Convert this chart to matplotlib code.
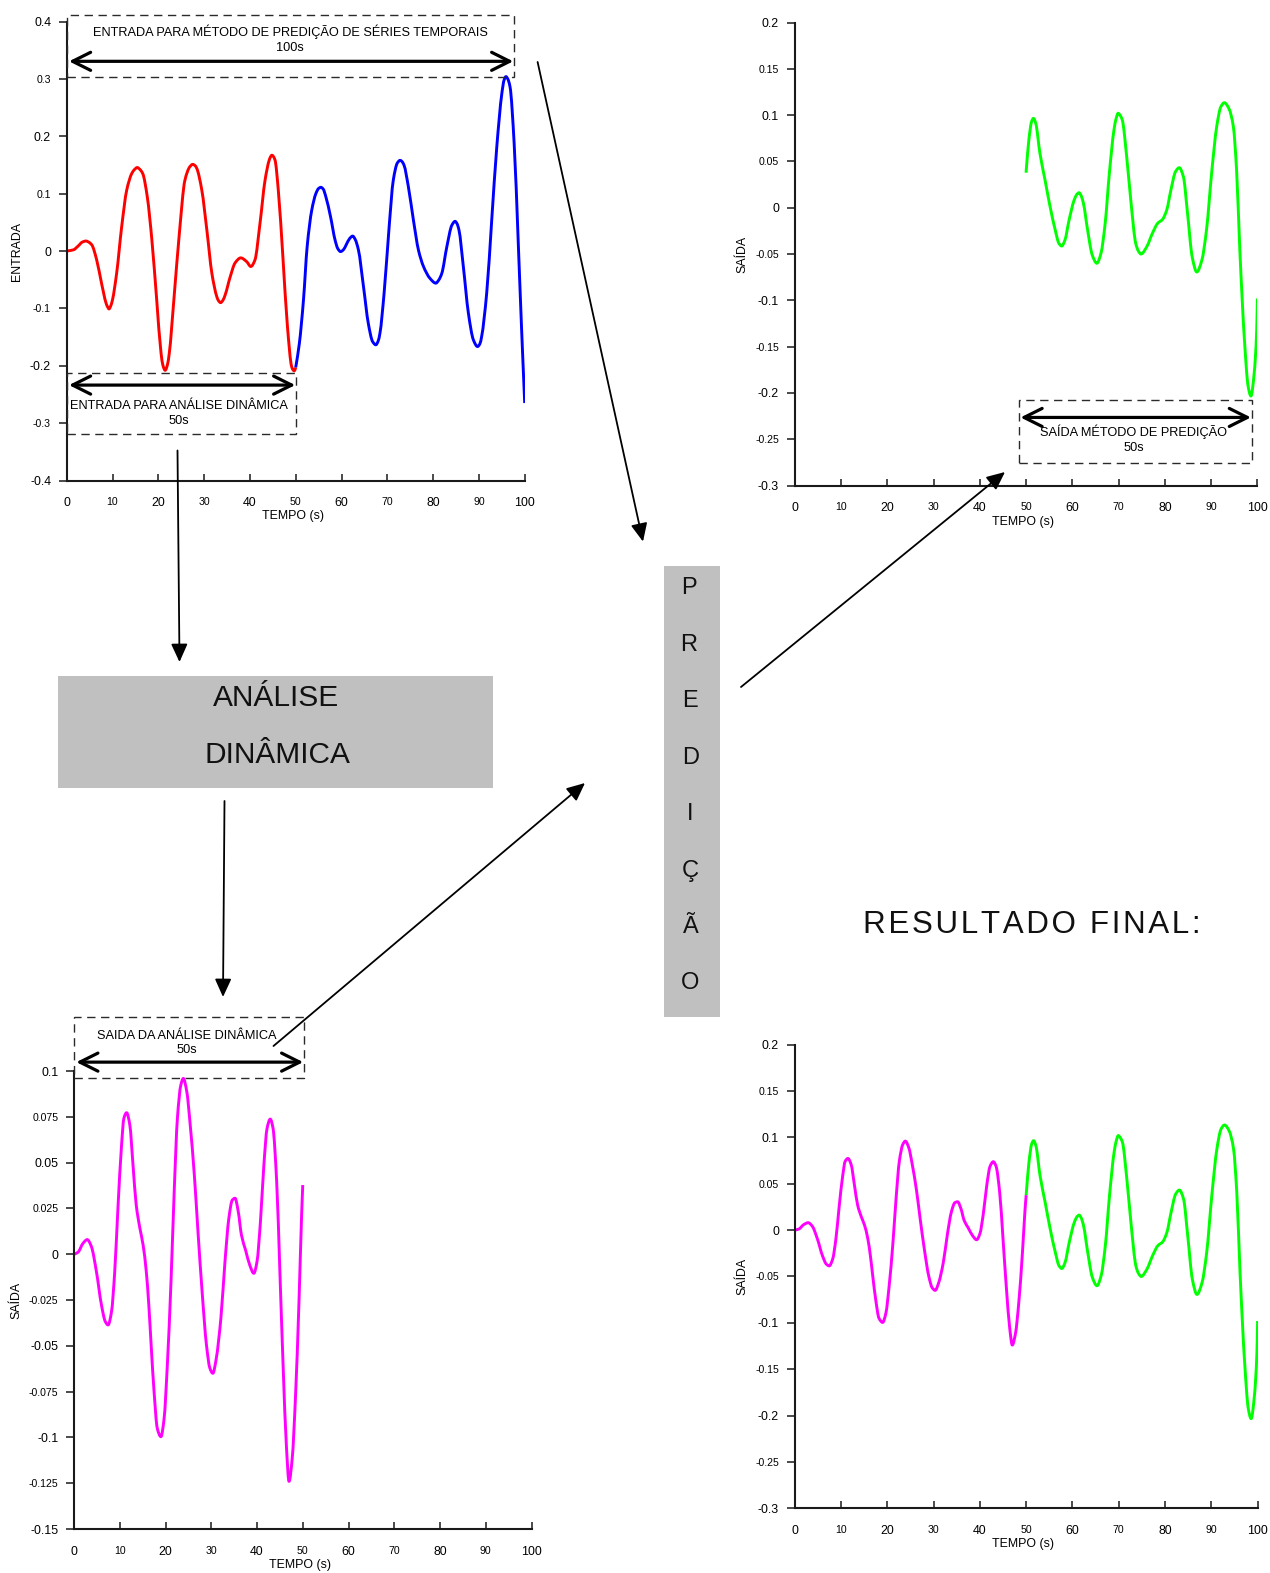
import numpy as np
import matplotlib
matplotlib.use('Agg')
import matplotlib.pyplot as plt
from matplotlib.patches import Rectangle, FancyArrowPatch, ArrowStyle, PathPatch
from matplotlib.path import Path

plt.rcParams['font.family'] = ['Liberation Sans', 'DejaVu Sans']

# sinal de entrada: 0-50 s (analise dinamica) e 50-100 s (serie completa)
t_in_a = [0, 1.46, 2.5, 3.4, 4.2, 4.9, 5.5, 6.55, 7.6, 8.6, 8.9, 9.24, 9.6, 10.0,
          10.9, 12.0, 13.1, 14.2, 14.8, 15.4, 16.0, 16.6, 17.6, 18.6, 19.65, 20.6,
          21.0, 21.5, 22.0, 22.4, 23.4, 24.6, 25.8, 26.9, 27.5, 28.0, 28.4, 29.5,
          30.6, 31.7, 32.75, 33.1, 33.6, 34.1, 34.6, 35.7, 36.75, 38.0, 39.3, 40.2,
          41.1, 42.2, 43.3, 44.2, 44.5, 44.8, 45.1, 45.5, 46.2, 47.2, 48.2, 49.1,
          49.4, 49.7, 50.0]
v_in_a = [0, 0.002, 0.0087, 0.0155, 0.0174, 0.015, 0.0104, -0.0157, -0.056, -0.091,
          -0.097, -0.101, -0.096, -0.085, -0.039, 0.042, 0.106, 0.135, 0.142, 0.1455,
          0.142, 0.135, 0.094, 0.019, -0.085, -0.178, -0.199, -0.208, -0.198, -0.178,
          -0.085, 0.031, 0.123, 0.147, 0.151, 0.149, 0.144, 0.106, 0.0365, -0.039,
          -0.079, -0.086, -0.090, -0.086, -0.0765, -0.045, -0.021, -0.012, -0.0186,
          -0.027, -0.0157, 0.048, 0.123, 0.158, 0.164, 0.167, 0.165, 0.158, 0.106,
          -0.01, -0.132, -0.201, -0.207, -0.209, -0.203]

t_in_b = [50.0, 50.8, 51.7, 52.5, 53.5, 54.4, 55.0, 55.5, 56.0, 56.6, 57.6, 58.6,
          59.2, 59.8, 60.4, 61.0, 61.8, 62.45, 63.0, 63.7, 64.8, 65.85, 66.8, 67.5,
          68.0, 68.4, 69.3, 70.4, 71.3, 72.2, 72.8, 73.2, 73.65, 74.6, 75.7, 76.8,
          77.9, 79.3, 80.6, 81.2, 81.9, 83.0, 84.1, 84.8, 85.2, 85.65, 86.6, 87.7,
          88.8, 89.7, 90.2, 90.6, 91.7, 92.8, 93.9, 95.0, 95.5, 95.9, 96.3, 96.8,
          97.7, 98.6, 99.3, 100.0]
v_in_b = [-0.203, -0.161, -0.085, 0.0075, 0.071, 0.100, 0.109, 0.111, 0.108, 0.094,
          0.060, 0.019, 0.004, -0.001, 0.002, 0.0104, 0.022, 0.026, 0.020, 0.0017,
          -0.062, -0.126, -0.158, -0.1635, -0.157, -0.143, -0.0736, 0.042, 0.123,
          0.1535, 0.158, 0.156, 0.1496, 0.112, 0.054, 0.0017, -0.027, -0.0475, -0.056,
          -0.051, -0.039, 0.0075, 0.045, 0.0517, 0.048, 0.0365, -0.027, -0.108, -0.155,
          -0.1665, -0.162, -0.149, -0.0736, 0.054, 0.181, 0.274, 0.298, 0.304, 0.300,
          0.286, 0.187, 0.013, -0.132, -0.265]

# saida da analise dinamica (0-50 s)
t_dyn = [0, 0.88, 1.97, 2.9, 3.8, 4.9, 6.0, 6.85, 7.45, 8.2, 8.9, 9.6, 10.35, 10.9,
         11.5, 12.2, 12.9, 13.6, 14.4, 15.1, 15.8, 16.35, 16.9, 17.5, 18.2, 19.0,
         19.7, 20.4, 21.2, 21.9, 22.6, 23.35, 23.9, 24.65, 25.4, 26.3, 27.1, 28.0,
         28.95, 29.7, 30.35, 31.1, 32.1, 33.0, 33.85, 34.6, 35.2, 35.9, 36.6, 37.5,
         38.4, 39.3, 40.0, 40.75, 41.5, 42.2, 42.9, 43.5, 44.3, 45.0, 45.7, 46.45,
         47.0, 47.7, 48.4, 49.2, 49.75, 50.0]
v_dyn = [0, 0.0011, 0.006, 0.008, 0.0042, -0.0095, -0.0277, -0.0368, -0.0386, -0.0313,
         -0.0095, 0.0251, 0.0579, 0.0742, 0.0773, 0.0706, 0.0487, 0.0269, 0.0142,
         0.0051, -0.0095, -0.0277, -0.0513, -0.075, -0.095, -0.0996, -0.0895, -0.0604,
         -0.015, 0.0342, 0.0742, 0.0924, 0.096, 0.0888, 0.0706, 0.0433, 0.0123,
         -0.0204, -0.0495, -0.0622, -0.065, -0.0568, -0.035, -0.004, 0.0197, 0.0296,
         0.0306, 0.0233, 0.0105, 0.0023, -0.0058, -0.0104, -0.004, 0.0178, 0.0487,
         0.0688, 0.0738, 0.0688, 0.0396, -0.0095, -0.0604, -0.1059, -0.124, -0.1113,
         -0.0786, -0.024, 0.0215, 0.0378]

# saida do metodo de predicao (50-100 s)
t_pred = [50.0, 50.6, 51.2, 51.6, 52.1, 53.0, 54.1, 55.2, 56.3, 57.1, 57.7, 58.4,
          59.3, 60.4, 61.0, 61.45, 61.9, 62.4, 63.3, 64.3, 65.3, 66.2, 67.1, 68.0,
          69.0, 69.5, 69.9, 70.3, 70.8, 71.75, 72.7, 73.7, 74.3, 74.85, 76.1, 77.3,
          78.45, 79.5, 80.4, 81.3, 82.3, 83.1, 84.0, 84.9, 85.9, 86.9, 88.0, 89.0,
          90.1, 91.2, 92.1, 92.85, 93.85, 94.8, 95.5, 96.2, 97.2, 98.0, 98.6, 99.3,
          99.85, 100.0]
v_pred = [0.0378, 0.073, 0.093, 0.0965, 0.091, 0.0587, 0.030, 0.001, -0.024, -0.0385,
          -0.0414, -0.035, -0.0133, 0.0083, 0.0145, 0.0162, 0.013, 0.0047, -0.024,
          -0.051, -0.060, -0.049, -0.0168, 0.037, 0.084, 0.097, 0.102, 0.100, 0.0947,
          0.055, 0.0047, -0.0385, -0.047, -0.050, -0.042, -0.0277, -0.0168, -0.0126,
          -0.0025, 0.019, 0.0389, 0.0432, 0.0335, -0.006, -0.053, -0.0694, -0.0565,
          -0.024, 0.037, 0.0875, 0.109, 0.1134, 0.107, 0.0875, 0.0407, -0.0457, -0.143,
          -0.193, -0.2034, -0.179, -0.132, -0.098]

x_ticks = [0, 10, 20, 30, 40, 50, 60, 70, 80, 90, 100]
x_tick_labels = ['0', '10', '20', '30', '40', '50', '60', '70', '80', '90', '100']
y_ticks_in = [-0.4, -0.3, -0.2, -0.1, 0, 0.1, 0.2, 0.3, 0.4]
y_labels_in = ['-0.4', '-0.3', '-0.2', '-0.1', '0', '0.1', '0.2', '0.3', '0.4']
y_ticks_out = [-0.3, -0.25, -0.2, -0.15, -0.1, -0.05, 0, 0.05, 0.1, 0.15, 0.2]
y_labels_out = ['-0.3', '-0.25', '-0.2', '-0.15', '-0.1', '-0.05', '0', '0.05',
                '0.1', '0.15', '0.2']
y_ticks_dyn = [-0.15, -0.125, -0.1, -0.075, -0.05, -0.025, 0, 0.025, 0.05, 0.075, 0.1]
y_labels_dyn = ['-0.15', '-0.125', '-0.1', '-0.075', '-0.05', '-0.025', '0', '0.025',
                '0.05', '0.075', '0.1']

W, H = 1270, 1573
fig = plt.figure(figsize=(W / 100, H / 100), dpi=100)


def fx(px):
    return px / W


def fy(py):
    return 1 - py / H


def smooth_line(ax, t, v, color):
    # curva suave (Bezier com tangentes tipo PCHIP) passando pelos pontos
    t = np.asarray(t, float)
    v = np.asarray(v, float)
    h = np.diff(t)
    d = np.diff(v) / h
    m = np.zeros_like(v)
    m[0], m[-1] = d[0], d[-1]
    for k in range(1, len(v) - 1):
        if d[k - 1] * d[k] > 0:
            w1 = 2 * h[k] + h[k - 1]
            w2 = h[k] + 2 * h[k - 1]
            m[k] = (w1 + w2) / (w1 / d[k - 1] + w2 / d[k])
    verts = [(t[0], v[0])]
    codes = [Path.MOVETO]
    for k in range(len(h)):
        verts += [(t[k] + h[k] / 3, v[k] + m[k] * h[k] / 3),
                  (t[k + 1] - h[k] / 3, v[k + 1] - m[k + 1] * h[k] / 3),
                  (t[k + 1], v[k + 1])]
        codes += [Path.CURVE4] * 3
    ax.add_patch(PathPatch(Path(verts, codes), fill=False, ec=color, lw=2.1,
                           capstyle='butt', joinstyle='round'))


def style_axes(ax, yticks, ylabels, ylim, ylabel, ylabel_x):
    ax.set_xlim(0, 100)
    ax.set_ylim(*ylim)
    ax.spines[['top', 'right']].set_visible(False)
    for s in ('left', 'bottom'):
        ax.spines[s].set_linewidth(1.5)
        ax.spines[s].set_color('#1a1a1a')
    ax.set_xticks(x_ticks)
    ax.set_xticklabels(x_tick_labels)
    ax.set_yticks(yticks)
    ax.set_yticklabels(ylabels)
    ax.tick_params(axis='x', direction='in', length=5, width=1.1, pad=12, color='#1a1a1a')
    ax.tick_params(axis='y', direction='out', length=5.8, width=1.1, pad=5.5, color='#1a1a1a')
    for labels in (ax.get_xticklabels(), ax.get_yticklabels()):
        for i, lab in enumerate(labels):
            lab.set_fontsize(8.9 if i % 2 == 0 else 7.6)
    ax.text(0.494, -0.078, 'TEMPO (s)', transform=ax.transAxes, ha='center',
            va='center', fontsize=8.9)
    ax.text(ylabel_x, 0.5, ylabel, transform=ax.transAxes, rotation=90,
            ha='center', va='center', fontsize=8.9)


def span_box(ax, x0, x1, y0, y1, y_arrow, ax0, ax1, label, y_label, y_time, x_text):
    ax.add_patch(Rectangle((x0, y0), x1 - x0, y1 - y0, fill=False, lw=1,
                           ls=(0, (6, 4)), ec='#2a2a2a', clip_on=False, zorder=4))
    ax.add_patch(FancyArrowPatch((ax0, y_arrow), (ax1, y_arrow),
                                 arrowstyle=ArrowStyle('<->', head_length=13, head_width=6.5),
                                 mutation_scale=1, lw=2.3, color='black',
                                 shrinkA=0, shrinkB=0, clip_on=False, zorder=5))
    ax.text(x_text, y_label, label, ha='center', va='baseline', fontsize=9.2, clip_on=False)
    ax.text(x_text, y_time, '50s' if ax1 - ax0 < 60 else '100s', ha='center',
            va='baseline', fontsize=9.2, clip_on=False)


# entrada
ax1 = fig.add_axes([0.05252, 0.69453, 0.36063, 0.2918])
smooth_line(ax1, t_in_a, v_in_a, '#ff0000')
smooth_line(ax1, t_in_b, v_in_b, '#0000ff')
style_axes(ax1, y_ticks_in, y_labels_in, (-0.4, 0.4), 'ENTRADA', -0.109)
span_box(ax1, 0, 97.7, 0.3037, 0.4106, 0.3306, 0.5, 97.5,
         'ENTRADA PARA MÉTODO DE PREDIÇÃO DE SÉRIES TEMPORAIS', 0.3748, 0.349, 48.75)
span_box(ax1, 0, 50.1, -0.319, -0.212, -0.2337, 0.5, 49.9,
         'ENTRADA PARA ANÁLISE DINÂMICA', -0.2755, -0.302, 24.5)

# saida do metodo de predicao
ax2 = fig.add_axes([0.62575, 0.69135, 0.36433, 0.29434])
smooth_line(ax2, t_pred, v_pred, '#00ff00')
style_axes(ax2, y_ticks_out, y_labels_out, (-0.3, 0.2), 'SAÍDA', -0.113)
span_box(ax2, 48.5, 98.85, -0.2752, -0.2078, -0.2265, 48.8, 98.6,
         'SAÍDA MÉTODO DE PREDIÇÃO', -0.2463, -0.2631, 73.3)

# saida da analise dinamica
ax3 = fig.add_axes([0.05827, 0.02797, 0.36024, 0.2911])
smooth_line(ax3, t_dyn, v_dyn, '#ff00ff')
style_axes(ax3, y_ticks_dyn, y_labels_dyn, (-0.15, 0.1), 'SAÍDA', -0.1256)
span_box(ax3, 0, 50.35, 0.0963, 0.1294, 0.1049, 0.5, 50.1,
         'SAIDA DA ANÁLISE DINÂMICA', 0.1173, 0.1097, 24.7)

# resultado final: analise dinamica + predicao
ax4 = fig.add_axes([0.62575, 0.04119, 0.3645, 0.29466])
smooth_line(ax4, t_dyn, v_dyn, '#ff00ff')
smooth_line(ax4, t_pred, v_pred, '#00ff00')
style_axes(ax4, y_ticks_out, y_labels_out, (-0.3, 0.2), 'SAÍDA', -0.113)

# blocos do diagrama
fig.add_artist(Rectangle((fx(58.3), fy(788.3)), fx(492.7) - fx(58.3), fy(676) - fy(788.3),
                         transform=fig.transFigure, fc='#c0c0c0', ec='none', zorder=0))
fig.add_artist(Rectangle((fx(664), fy(1016.5)), fx(720) - fx(664), fy(566) - fy(1016.5),
                         transform=fig.transFigure, fc='#c0c0c0', ec='none', zorder=0))
fig.text(fx(276), fy(705.7), 'ANÁLISE', ha='center', va='baseline', fontsize=21.5,
         color='#111111')
fig.text(fx(277.7), fy(762.7), 'DINÂMICA', ha='center', va='baseline', fontsize=21.5,
         color='#111111')
for i, ch in enumerate('PREDIÇÃO'):
    fig.text(fx(689 + (1.5 if i > 1 else 0)), fy(594.5 + 56.4 * i), ch, ha='center',
             va='baseline', fontsize=17, color='#111111')
fig.text(fx(1031.5), fy(932.7), '\u200a'.join('RESULTADO FINAL:'), ha='center',
         va='baseline', fontsize=22.6, color='#111111')

# setas de fluxo
flow = [((177.5, 450.5), (179.5, 662)),
        ((224.5, 801), (223, 997)),
        ((273.5, 1046), (585, 783)),
        ((537.6, 62), (643, 541.6)),
        ((741, 687), (1005, 472))]
for (xa, ya), (xb, yb) in flow:
    fig.add_artist(FancyArrowPatch((fx(xa), fy(ya)), (fx(xb), fy(yb)),
                                   transform=fig.transFigure,
                                   arrowstyle=ArrowStyle('-|>', head_length=11, head_width=5),
                                   mutation_scale=1, lw=1.3, color='black',
                                   shrinkA=0, shrinkB=0, zorder=6))

fig.savefig('out.png', dpi=100)
